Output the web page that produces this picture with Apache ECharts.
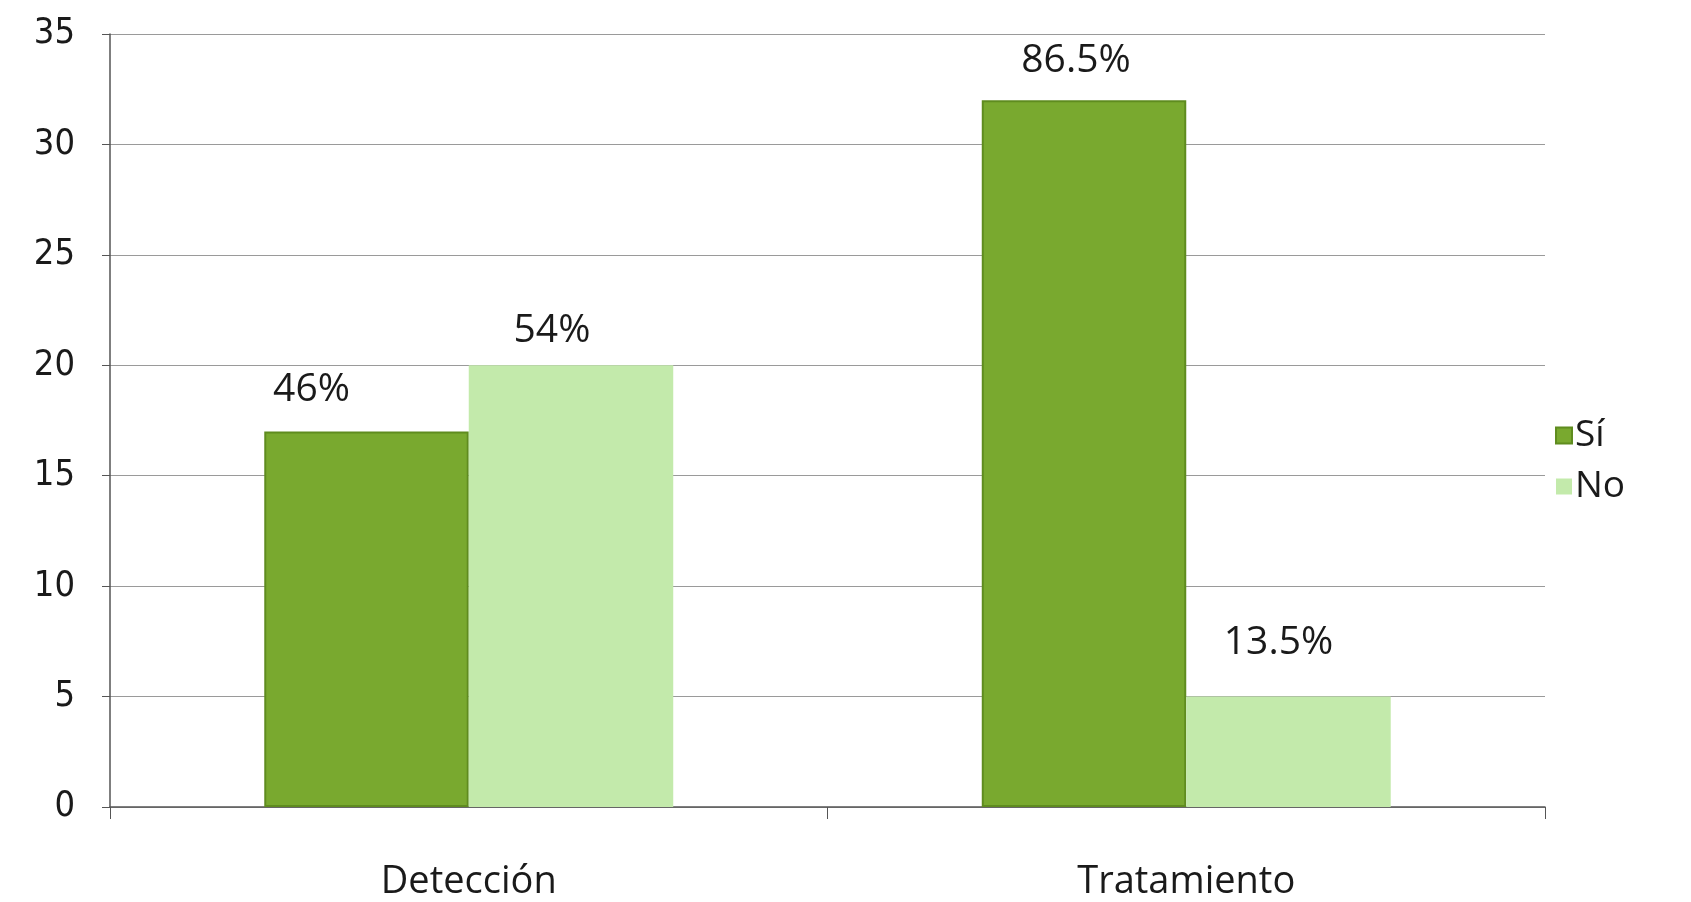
<!DOCTYPE html>
<html>
<head>
<meta charset="utf-8">
<script src="https://cdn.jsdelivr.net/npm/echarts@6/dist/echarts.min.js"></script>
<style>
  html, body { margin: 0; padding: 0; background: #fff; }
  #chart { width: 1691px; height: 902px; }
</style>
</head>
<body>
<div id="chart"></div>
<script>
// Categories, series values and label text
const categories = ['Detección', 'Tratamiento'];
const seriesNames = ['Sí', 'No'];
const siValues = [17, 32];
const noValues = [20, 5];
const siLabels = ['46%', '86.5%'];
const noLabels = ['54%', '13.5%'];
const yTicks = [0, 5, 10, 15, 20, 25, 30, 35];

// Hand placement of the percentage labels above each bar: [dx, dy]
const siLabelNudge = [[-55, -22], [-8, -20]];
const noLabelNudge = [[-19, -15], [-10, -34]];

const FONT = '"Open Sans", "Noto Sans", sans-serif';
const NARROW = '"Liberation Sans Narrow", "DejaVu Sans Condensed", "Open Sans", sans-serif';
const TEXT = '#1a1a1a';

function makeData(values, labels, nudges) {
  return values.map((v, i) => ({
    value: v,
    label: { formatter: labels[i], offset: nudges[i] }
  }));
}

const chart = echarts.init(document.getElementById('chart'), null, { renderer: 'canvas' });

chart.setOption({
  backgroundColor: '#ffffff',
  animation: false,
  grid: { left: 110, right: 146, top: 34, bottom: 95, containLabel: false },
  legend: {
    orient: 'vertical',
    left: 1550,
    top: 412,
    itemWidth: 16,
    itemHeight: 16,
    itemGap: 14,
    icon: 'rect',
    textStyle: { fontFamily: FONT, fontSize: 37, color: TEXT, padding: [0, 0, 0, -2] },
    data: seriesNames
  },
  xAxis: {
    type: 'category',
    data: categories,
    axisLine: { show: true, lineStyle: { color: '#555', width: 1.5 } },
    axisTick: { show: true, length: 12, lineStyle: { color: '#555' } },
    axisLabel: { fontFamily: FONT, fontSize: 38, color: TEXT, margin: 56 },
    splitLine: { show: false }
  },
  yAxis: {
    type: 'value',
    min: yTicks[0],
    max: yTicks[yTicks.length - 1],
    interval: yTicks[1] - yTicks[0],
    axisLine: { show: true, lineStyle: { color: '#555', width: 1.5 } },
    axisTick: { show: true, length: 8, lineStyle: { color: '#555' } },
    axisLabel: { fontFamily: NARROW, fontSize: 36, color: TEXT, margin: 35 },
    splitLine: { show: true, lineStyle: { color: '#9a9a9a', width: 1.2 } }
  },
  series: [
    {
      name: seriesNames[0],
      type: 'bar',
      data: makeData(siValues, siLabels, siLabelNudge),
      barGap: '0%',
      barCategoryGap: '43%',
      itemStyle: { color: '#79a92f', borderColor: '#5f8c1f', borderWidth: 2 },
      label: {
        show: true,
        position: 'top',
        distance: 0,
        fontFamily: FONT,
        fontSize: 39,
        color: TEXT
      }
    },
    {
      name: seriesNames[1],
      type: 'bar',
      data: makeData(noValues, noLabels, noLabelNudge),
      itemStyle: { color: '#c3eaab' },
      label: {
        show: true,
        position: 'top',
        distance: 0,
        fontFamily: FONT,
        fontSize: 39,
        color: TEXT
      }
    }
  ]
});
</script>
</body>
</html>
